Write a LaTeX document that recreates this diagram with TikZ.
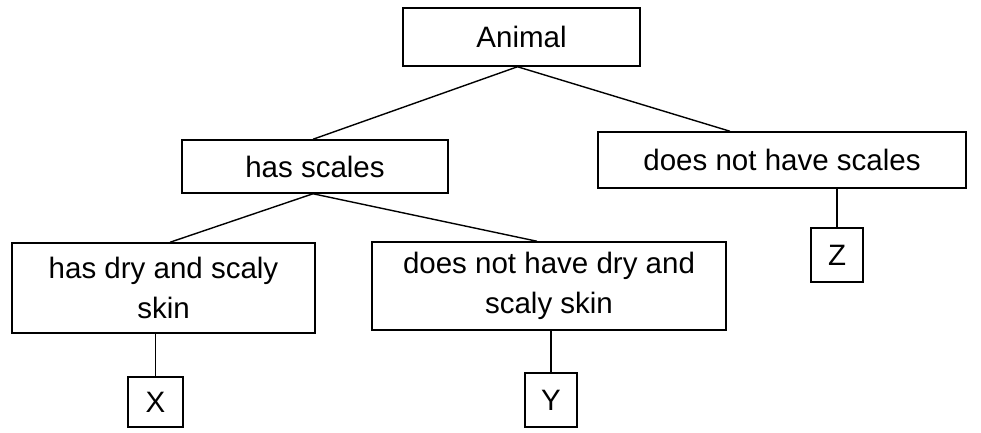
\documentclass[tikz,border=0pt]{standalone}
\usepackage{fontspec}
\setmainfont{Liberation Sans}
\begin{document}
\begin{tikzpicture}[x=1pt,y=-1pt,
  box/.style={draw=black, line width=1.5pt, inner sep=0pt, align=center,
    font=\fontsize{29.5}{40}\selectfont},
  link/.style={draw=black, line width=1.4pt}]
\useasboundingbox[fill=white] (0,0) rectangle (981,432);
\node[box, minimum width=237pt, minimum height=58pt] (animal) at (521.5,37) {Animal};
\node[box, minimum width=266pt, minimum height=53pt] (hs) at (315,166.5) {has scales};
\node[box, minimum width=368pt, minimum height=56pt] (dnhs) at (782,160) {does not have scales};
\node[box, minimum width=303pt, minimum height=90pt] (hdss) at (163.5,288) {has dry and scaly\\skin};
\node[box, minimum width=354pt, minimum height=88pt] (dndss) at (549,286) {does not have dry and\\scaly skin};
\node[box, minimum width=55pt, minimum height=50pt] (X) at (155.5,402) {X};
\node[box, minimum width=52pt, minimum height=54pt] (Y) at (551,400) {Y};
\node[box, minimum width=52pt, minimum height=54pt] (Z) at (837,255) {Z};
\draw[link] ([xshift=-4pt]animal.south) -- ([xshift=-2pt]hs.north);
\draw[link] ([xshift=-4pt]animal.south) -- ([xshift=-52pt]dnhs.north);
\draw[link] ([xshift=-2pt]hs.south) -- ([xshift=6.5pt]hdss.north);
\draw[link] ([xshift=-2pt]hs.south) -- ([xshift=-12pt]dndss.north);
\draw[link] (X.north |- hdss.south) -- (X.north);
\draw[link] (Y.north |- dndss.south) -- (Y.north);
\draw[link] (Z.north |- dnhs.south) -- (Z.north);
\end{tikzpicture}
\end{document}
